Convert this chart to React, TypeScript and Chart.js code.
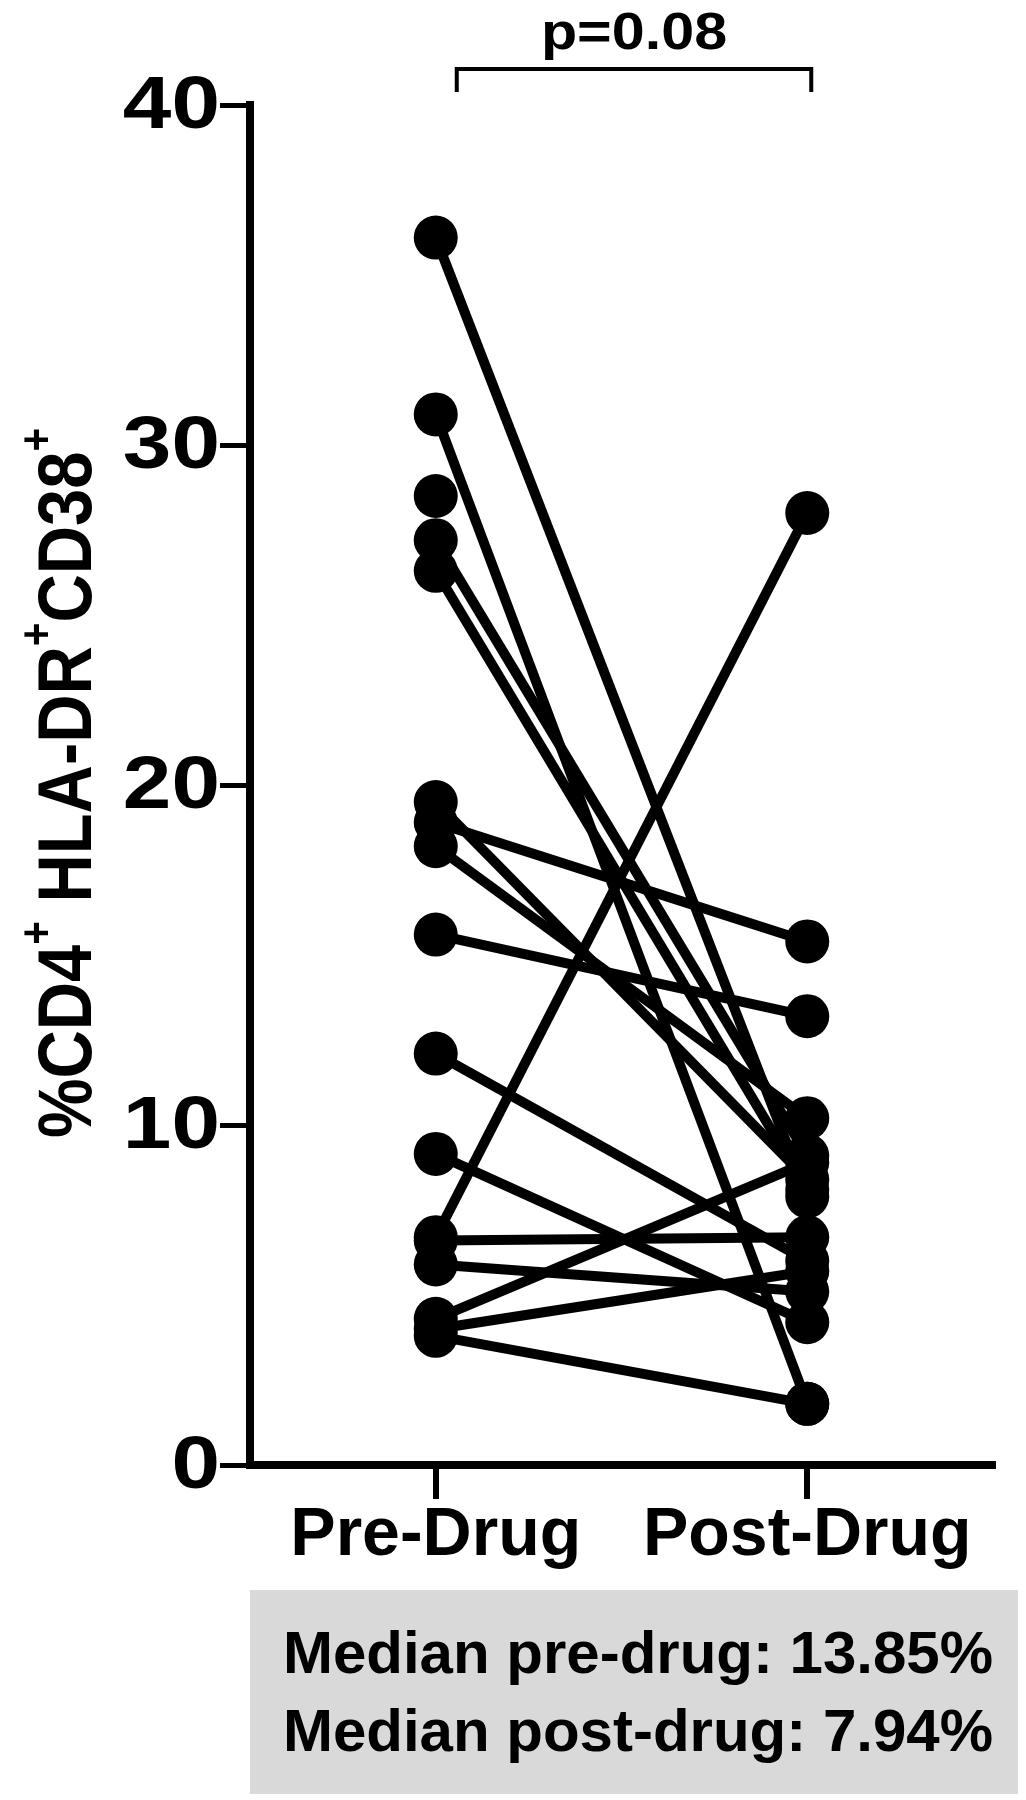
import React, { useEffect, useRef } from 'react';
import { Chart, registerables } from 'chart.js';

Chart.register(...registerables);

// ---- data ----
const categories = ['Pre-Drug', 'Post-Drug'];
const preDrug = [36.1, 30.9, 27.2, 26.3, 19.5, 18.9, 18.2, 15.6, 12.1, 9.15, 6.7, 6.6, 5.9, 4.3, 4.0, 3.8, 28.5];
const postDrug: (number | null)[] = [7.9, 1.8, 9.1, 8.1, 8.4, 15.4, 10.2, 13.2, 6.0, 4.2, 28.0, 6.7, 5.1, 8.9, 5.7, 1.8, null];
const yTickValues = [0, 10, 20, 30, 40];
const yTitleParts: [string, boolean][] = [
  ['%CD4', false], ['+', true], [' HLA-DR', false], ['+', true], ['CD38', false], ['+', true],
];
const pValueLabel = 'p=0.08';
const medianLines = ['Median pre-drug: 13.85%', 'Median post-drug: 7.94%'];

const FONT = '"Liberation Sans", Arial, sans-serif';

const annotPlugin = {
  id: 'annot',
  afterDraw(chart: any) {
    const ctx = chart.ctx as CanvasRenderingContext2D;
    const ys = chart.scales.y;
    const xs = chart.scales.x;
    ctx.save();
    ctx.fillStyle = '#000';
    ctx.strokeStyle = '#000';

    // y tick labels (wide bold digits)
    ctx.font = `bold 74px ${FONT}`;
    ctx.textAlign = 'right';
    ctx.textBaseline = 'middle';
    ys.ticks.forEach((t: any) => {
      const py = ys.getPixelForValue(t.value);
      ctx.save();
      ctx.translate(212, py + 3);
      ctx.scale(1.18, 1);
      ctx.fillText(String(t.value), 0, 0);
      ctx.restore();
    });

    // y title with superscripts
    ctx.save();
    ctx.translate(56, ys.getPixelForValue(20) - 2);
    ctx.rotate(-Math.PI / 2);
    ctx.scale(0.88, 1);
    const mainFont = `bold 76px ${FONT}`;
    const supFont = `bold 46px ${FONT}`;
    let total = 0;
    yTitleParts.forEach(([t, sup]) => {
      ctx.font = sup ? supFont : mainFont;
      total += ctx.measureText(t).width;
    });
    let cx = -total / 2;
    ctx.textAlign = 'left';
    ctx.textBaseline = 'alphabetic';
    yTitleParts.forEach(([t, sup]) => {
      ctx.font = sup ? supFont : mainFont;
      ctx.fillText(t, cx, sup ? -12 : 27);
      cx += ctx.measureText(t).width;
    });
    ctx.restore();

    // significance bracket
    const x0 = xs.getPixelForValue(0) + 21;
    const x1 = xs.getPixelForValue(1) + 4;
    ctx.lineWidth = 4;
    ctx.beginPath();
    ctx.moveTo(x0, 84);
    ctx.lineTo(x0, 61);
    ctx.lineTo(x1, 61);
    ctx.lineTo(x1, 84);
    ctx.stroke();
    ctx.save();
    ctx.translate((x0 + x1) / 2, 41);
    ctx.scale(1.14, 1);
    ctx.font = `bold 52px ${FONT}`;
    ctx.textAlign = 'center';
    ctx.textBaseline = 'alphabetic';
    ctx.fillText(pValueLabel, 0, 0);
    ctx.restore();

    ctx.restore();
  },
};

export default function App() {
  const ref = useRef<HTMLCanvasElement | null>(null);

  useEffect(() => {
    if (!ref.current) return;
    const datasets = preDrug.map((pre, i) => ({
      label: `Subject ${i + 1}`,
      data: [pre, postDrug[i]],
      borderColor: '#000',
      backgroundColor: '#000',
      borderWidth: 10,
      pointRadius: 22,
      pointHoverRadius: 22,
      pointBorderWidth: 0,
      pointBackgroundColor: '#000',
      fill: false,
      tension: 0,
      clip: false as any,
    }));
    const chart = new Chart(ref.current, {
      type: 'line',
      data: { labels: categories, datasets },
      options: {
        responsive: false,
        animation: false,
        maintainAspectRatio: false,
        layout: { padding: { left: 0, top: 97, right: 25, bottom: 0 } },
        plugins: { legend: { display: false }, tooltip: { enabled: false } },
        scales: {
          x: {
            type: 'category',
            offset: true,
            afterFit: (s: any) => { s.height = 125; },
            grid: {
              offset: false,
              drawOnChartArea: false,
              drawTicks: true,
              tickLength: 34,
              lineWidth: 6,
              color: '#000',
            },
            border: { display: true, width: 8, color: '#000' },
            ticks: {
              color: '#000',
              padding: -4,
              font: { family: FONT, size: 68, weight: 'bold' },
            },
          },
          y: {
            min: 0,
            max: 40,
            afterFit: (s: any) => { s.width = 242; },
            afterBuildTicks: (s: any) => { s.ticks = yTickValues.map((v) => ({ value: v })); },
            grid: {
              drawOnChartArea: false,
              drawTicks: true,
              tickLength: 30,
              lineWidth: 5,
              color: '#000',
            },
            border: { display: true, width: 8, color: '#000' },
            ticks: { display: false, stepSize: 10 },
          },
        },
      },
      plugins: [annotPlugin],
    });
    return () => chart.destroy();
  }, []);

  return (
    <div style={{ position: 'relative', width: 1010, height: 1792 }}>
      <canvas ref={ref} width={1010} height={1582} style={{ display: 'block', width: 1010, height: 1582 }} />
      <div
        style={{
          position: 'absolute',
          left: 242,
          top: 1582,
          width: 776,
          height: 204,
          background: '#d9d9d9',
          boxSizing: 'border-box',
          paddingTop: 24,
          textAlign: 'center',
          fontFamily: FONT,
          fontWeight: 'bold',
          fontSize: 60,
          lineHeight: '78px',
          color: '#000',
        }}
      >
        {medianLines.map((l) => (
          <div key={l}>{l}</div>
        ))}
      </div>
    </div>
  );
}
